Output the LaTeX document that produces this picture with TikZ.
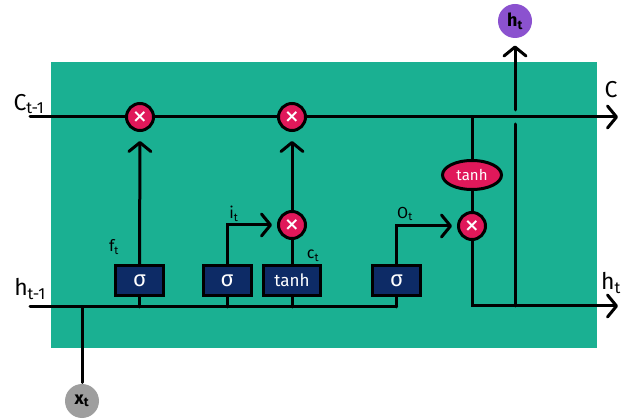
\documentclass[tikz,border=0pt]{standalone}
\usepackage{fontspec}
\setmainfont{Fira Sans}
\newfontfamily\crossfont{DejaVu Sans}
\usetikzlibrary{arrows.meta,shapes.geometric}
\definecolor{cellgreen}{HTML}{1AB092}
\definecolor{multred}{HTML}{E0185A}
\definecolor{gatenavy}{HTML}{0D2B66}
\definecolor{hpurple}{HTML}{8B52CF}
\definecolor{xgray}{HTML}{9E9E9E}
\begin{document}
\begin{tikzpicture}[x=1pt,y=-1pt,line width=3pt,
  wire/.style={draw=black,line width=3pt,line cap=round},
  arr/.style={wire,-{Straight Barb[length=9pt,width=22pt,round]}},
  mult/.style={circle,draw=black,line width=3pt,fill=multred,minimum size=27pt,inner sep=0pt,text=white,font=\crossfont\bfseries\fontsize{18}{18}\selectfont},
  gatebox/.style={rectangle,draw=black,line width=3pt,fill=gatenavy,minimum width=48pt,minimum height=30pt,inner sep=0pt,text=white,font=\fontsize{22}{22}\selectfont},
  tanhell/.style={ellipse,draw=black,line width=3pt,fill=multred,minimum width=59pt,minimum height=29pt,inner sep=0pt,text=white,font=\fontsize{15}{15}\selectfont},
  io/.style={circle,minimum size=34pt,inner sep=0pt,font=\bfseries\fontsize{18}{18}\selectfont},
  lbl/.style={inner sep=0pt,font=\fontsize{16}{16}\selectfont},
  biglbl/.style={inner sep=0pt,font=\fontsize{23}{23}\selectfont}
]
\useasboundingbox (0,0) rectangle (621,419);
\node[fill=cellgreen,minimum width=546pt,minimum height=286pt,inner sep=0pt,draw=none] (cell) at (324,205) {};

% nodes
\node[mult] (m1) at (140,117) {×};
\node[mult] (m2) at (292,117) {×};
\node[mult] (m3) at (292,225) {×};
\node[mult] (m4) at (472,226) {×};
\node[gatebox] (sf) at (139.5,280.5) {σ};
\node[gatebox] (si) at (227,280.5) {σ};
\node[gatebox,minimum width=57pt,font=\fontsize{17}{17}\selectfont] (tc) at (292,280.5) {tanh};
\node[gatebox] (so) at (396.5,280.5) {σ};
\node[tanhell] (th) at (472,175) {tanh};
\node[io,fill=xgray] (xt) at (82,401) {x\textsubscript{t}};
\node[io,fill=hpurple] (ho) at (515,21) {h\textsubscript{t}};

% coordinates
\coordinate (cin) at (30,117);
\coordinate (cout) at (618,117);
\coordinate (hin) at (30,307);
\coordinate (hout) at (618,306);
\coordinate (j1) at (472,117);
\coordinate (hup) at (515,306);
\coordinate (gapb) at (515,124);
\coordinate (gapt) at (515,110);

% labels
\node[biglbl] (lc) at (29,104) {C\textsubscript{t-1}};
\node[biglbl] (lh) at (30,289) {h\textsubscript{t-1}};
\node[biglbl] (lC) at (611,90) {C};
\node[biglbl] (lht) at (611,283) {h\textsubscript{t}};
\node[lbl] (lf) at (114,247) {f\textsubscript{t}};
\node[lbl] (li) at (234,214) {i\textsubscript{t}};
\node[lbl] (lct) at (313,256) {c\textsubscript{t}};
\node[lbl] (lo) at (405,214) {O\textsubscript{t}};

% cell state line
\draw[wire] (cin) -- (m1);
\draw[wire] (m1) -- (m2);
\draw[arr] (m2) -- (cout);

% hidden input line
\draw[wire] (hin) -- (so.south |- hin);
\draw[wire] (sf.south) -- (sf.south |- hin);
\draw[wire] (si.south) -- (si.south |- hin);
\draw[wire] (tc.south) -- (tc.south |- hin);
\draw[wire] (so.south) -- (so.south |- hin);
\draw[wire] (xt) -- (xt |- hin);

% gates
\draw[arr,shorten >=9pt] (sf) -- (m1);
\draw[arr,shorten >=5pt] (si.north) |- (m3.west);
\draw[wire] (tc) -- (m3);
\draw[arr,shorten >=9pt] (m3) -- (m2);
\draw[arr,shorten >=5pt] (so.north) |- (m4.west);

% output
\draw[wire] (j1) -- (th);
\draw[wire] (th) -- (m4);
\draw[arr] (m4) |- (hout);
\draw[wire] (hup) -- (gapb);
\draw[arr,shorten >=6pt] (gapt) -- (ho);
\end{tikzpicture}
\end{document}
